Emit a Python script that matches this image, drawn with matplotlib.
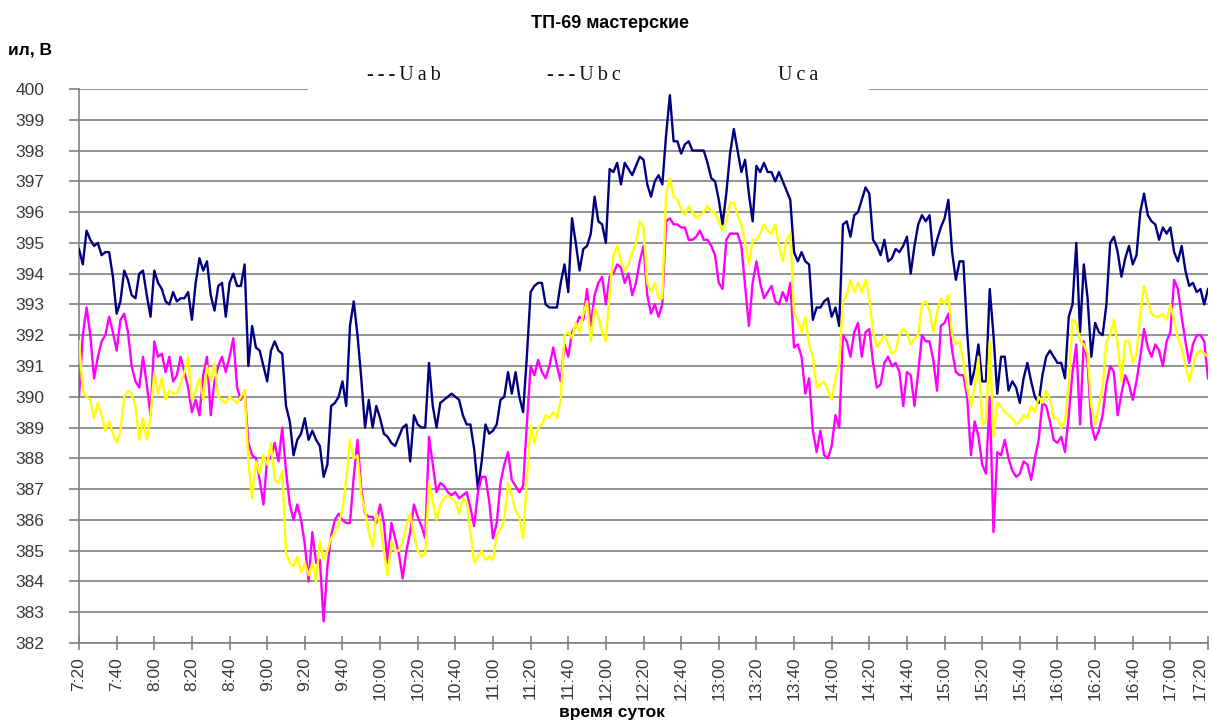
import numpy as np
import matplotlib
matplotlib.use('Agg')
import matplotlib.pyplot as plt
from matplotlib.patches import Rectangle

# минуты от 7:20, отсчёты через 2 минуты
minutes = np.arange(0, 601, 2)

tick_labels = ['7:20', '7:40', '8:00', '8:20', '8:40', '9:00', '9:20', '9:40',
               '10:00', '10:20', '10:40', '11:00', '11:20', '11:40', '12:00',
               '12:20', '12:40', '13:00', '13:20', '13:40', '14:00', '14:20',
               '14:40', '15:00', '15:20', '15:40', '16:00', '16:20', '16:40',
               '17:00', '17:20']

# линейное напряжение Uab, В
u_ab = [
    394.8, 394.3, 395.4, 395.1, 394.9, 395.0, 394.6, 394.7, 394.7, 393.9,
    392.7, 393.1, 394.1, 393.8, 393.3, 393.2, 394.0, 394.1, 393.3, 392.6,
    394.1, 393.7, 393.5, 393.1, 393.0, 393.4, 393.1, 393.2, 393.2, 393.4,
    392.5, 393.7, 394.5, 394.1, 394.4, 393.3, 392.8, 393.6, 393.7, 392.6,
    393.7, 394.0, 393.6, 393.6, 394.3, 391.0, 392.3, 391.6, 391.5, 391.0,
    390.5,
    391.5, 391.8, 391.5, 391.4, 389.7, 389.2, 388.1, 388.6, 388.8, 389.3,
    388.6, 388.9, 388.6, 388.4, 387.4, 387.8, 389.7, 389.8, 390.0, 390.5,
    389.7, 392.3, 393.1, 392.0, 390.6, 389.0, 389.9, 389.0, 389.7, 389.3,
    388.8, 388.7, 388.5, 388.4, 388.7, 389.0, 389.1, 387.9, 389.4, 389.1,
    389.0, 389.0, 391.1, 389.7, 389.0, 389.8, 389.9, 390.0, 390.1, 390.0,
    389.9, 389.4, 389.1, 389.1, 388.3, 387.0, 387.9, 389.1, 388.8, 388.9,
    389.1, 389.9, 390.0, 390.8, 390.1, 390.8, 390.0, 389.5, 391.3, 393.4,
    393.6, 393.7, 393.7, 393.0, 392.9, 392.9, 392.9, 393.7, 394.3, 393.4,
    395.8, 395.0, 394.1, 394.8, 394.9, 395.3, 396.5, 395.7, 395.6, 395.0,
    397.4, 397.3, 397.6, 396.9, 397.6, 397.4, 397.2, 397.5, 397.8, 397.7,
    396.9, 396.5, 397.0, 397.2, 396.9, 398.5, 399.8, 398.3, 398.3, 397.9,
    398.2, 398.3, 398.0, 398.0, 398.0, 398.0, 397.6, 397.1, 397.0, 396.4,
    395.6, 396.6, 397.9, 398.7, 398.0, 397.3, 397.7, 396.6, 395.7, 397.5,
    397.3, 397.6, 397.3, 397.3, 397.0, 397.3, 397.0, 396.7, 396.4, 394.7,
    394.4, 394.7, 394.4, 394.3, 392.5, 392.9, 392.9, 393.1, 393.2, 392.6,
    392.9, 392.3, 395.6, 395.7, 395.2, 395.9, 396.0, 396.4, 396.8, 396.6,
    395.1, 394.9, 394.6, 395.1, 394.4, 394.5, 394.8, 394.7, 394.9, 395.2,
    394.0, 394.9, 395.6, 395.9, 395.7, 395.9, 394.6, 395.1, 395.5, 395.8,
    396.4, 394.7, 393.8, 394.4, 394.4, 392.1, 390.4, 390.9, 391.7, 390.5,
    390.5, 393.5, 392.0, 390.1, 391.3, 391.3, 390.2, 390.5, 390.3, 389.8,
    390.6, 391.1, 390.5, 390.0, 389.8, 390.7, 391.3, 391.5, 391.3, 391.1,
    391.1, 390.6, 392.6, 393.0, 395.0, 392.1, 394.3, 393.2, 391.3, 392.4,
    392.1, 392.0, 393.0, 395.0, 395.2, 394.7, 393.9, 394.5, 394.9, 394.3,
    394.6, 396.0, 396.6, 395.9, 395.7, 395.6, 395.1, 395.5, 395.3, 395.5,
    394.7, 394.4, 394.9, 394.1, 393.6, 393.7, 393.4, 393.5, 393.0, 393.5,
]

# линейное напряжение Ubc, В
u_bc = [
    390.0, 392.0, 392.9, 392.0, 390.6, 391.3, 391.8, 392.0, 392.6, 392.1,
    391.5, 392.5, 392.7, 392.1, 391.0, 390.5, 390.3, 391.3, 390.4, 389.4,
    391.8, 391.3, 391.4, 390.8, 391.3, 390.5, 390.7, 391.3, 390.8, 390.3,
    389.5, 389.9, 389.4, 390.7, 391.3, 389.4, 390.5, 391.0, 391.3, 390.8,
    391.3, 391.9, 390.3, 389.9, 390.2, 388.5, 388.1, 388.0, 387.3, 386.5,
    388.0,
    388.0, 388.5, 387.9, 389.0, 387.6, 386.5, 386.0, 386.5, 386.0, 385.2,
    384.0, 385.6, 384.6, 384.7, 382.7, 384.5, 385.5, 386.0, 386.2, 386.0,
    385.9, 385.9, 387.4, 388.6, 387.0, 386.2, 386.1, 386.1, 385.9, 386.5,
    385.9, 384.6, 385.9, 385.4, 384.9, 384.1, 385.0, 385.6, 386.5, 386.1,
    385.8, 385.4, 388.7, 387.8, 386.9, 387.2, 387.1, 386.9, 386.8, 386.9,
    386.7, 386.8, 386.9, 386.4, 385.8, 386.9, 387.4, 387.4, 386.6, 385.4,
    385.9, 387.2, 387.8, 388.2, 387.3, 387.1, 386.9, 387.1, 389.1, 391.0,
    390.7, 391.2, 390.8, 390.6, 391.0, 391.6, 391.0, 390.5, 391.7, 391.3,
    392.1, 392.3, 392.6, 392.5, 393.5, 392.3, 393.3, 393.7, 393.9, 393.0,
    393.9, 394.0, 394.3, 394.2, 393.7, 394.0, 393.3, 393.7, 394.4, 394.9,
    393.3, 392.7, 393.0, 392.6, 393.0, 395.7, 395.8, 395.6, 395.6, 395.5,
    395.5, 395.1, 395.1, 395.2, 395.4, 395.1, 395.1, 394.9, 394.6, 393.7,
    393.5, 395.1, 395.3, 395.3, 395.3, 394.9, 393.6, 392.3, 393.7, 394.4,
    393.7, 393.2, 393.4, 393.6, 393.1, 393.0, 393.4, 393.1, 393.7, 391.6,
    391.7, 391.3, 390.1, 390.6, 388.9, 388.2, 388.9, 388.1, 388.0, 388.4,
    389.4, 389.0, 392.0, 391.8, 391.3, 392.1, 392.4, 391.3, 392.1, 392.2,
    391.1, 390.3, 390.4, 391.1, 391.3, 391.0, 391.1, 390.8, 389.7, 390.8,
    390.7, 389.7, 390.8, 392.0, 391.8, 391.8, 391.2, 390.2, 392.3, 392.4,
    392.7, 391.5, 390.8, 390.7, 390.7, 390.0, 388.1, 389.2, 388.7, 387.8,
    387.5, 390.0, 385.6, 388.2, 388.1, 388.6, 388.0, 387.6, 387.4, 387.5,
    387.9, 387.8, 387.3, 388.0, 388.6, 389.8, 389.7, 389.2, 388.6, 388.5,
    388.7, 388.2, 389.4, 390.8, 391.7, 389.1, 391.8, 391.1, 389.1, 388.6,
    388.9, 389.4, 390.4, 391.0, 390.8, 389.4, 390.1, 390.7, 390.4, 389.9,
    390.5, 391.3, 392.2, 391.6, 391.3, 391.7, 391.5, 391.0, 391.8, 392.1,
    393.8, 393.5, 392.6, 391.8, 391.1, 391.7, 392.0, 392.0, 391.8, 390.6,
]

# линейное напряжение Uca, В
u_ca = [
    391.8, 390.2, 390.0, 389.9, 389.3, 389.8, 389.4, 388.9, 389.2, 388.8,
    388.5, 388.9, 390.0, 390.2, 390.1, 389.7, 388.6, 389.3, 388.6, 389.4,
    390.8, 390.1, 390.6, 389.9, 390.2, 390.1, 390.1, 390.4, 390.8, 391.3,
    389.9, 390.2, 390.6, 389.9, 391.0, 390.5, 391.1, 390.0, 389.9, 389.8,
    390.0, 389.9, 389.8, 390.0, 390.2, 387.9, 386.7, 387.9, 387.5, 388.1,
    387.8,
    388.5, 387.3, 387.2, 387.6, 384.9, 384.6, 384.5, 384.8, 384.3, 384.6,
    384.2, 384.6, 384.0, 385.3, 384.7, 385.0, 385.4, 385.6, 385.9, 386.3,
    387.3, 388.6, 388.0, 388.1, 386.8, 386.3, 385.6, 385.1, 386.2, 385.9,
    385.0, 384.2, 385.3, 385.0, 385.0, 385.3, 385.8, 386.2, 385.5, 385.0,
    384.8, 384.9, 387.2, 386.6, 386.0, 386.5, 386.7, 386.8, 386.7, 386.6,
    386.2, 386.7, 386.6, 385.6, 384.6, 384.8, 385.0, 384.7, 384.8, 384.7,
    385.5, 385.7, 386.0, 387.2, 386.8, 386.3, 386.1, 385.4, 387.3, 389.1,
    388.5, 389.0, 389.1, 389.4, 389.3, 389.5, 389.3, 389.9, 392.0, 392.1,
    391.9, 392.4, 392.1, 392.7, 393.1, 391.8, 392.9, 392.6, 392.1, 391.8,
    393.4, 394.6, 394.9, 394.4, 394.1, 394.3, 394.7, 395.0, 395.7, 395.5,
    393.7, 393.4, 393.7, 393.2, 393.2, 396.6, 397.1, 396.5, 396.4, 396.1,
    395.9, 396.2, 396.0, 395.8, 395.9, 396.0, 396.2, 396.0, 396.0, 395.7,
    395.4, 395.7, 396.3, 396.3, 395.9, 395.6, 395.0, 394.3, 395.1, 395.1,
    395.3, 395.6, 395.4, 395.3, 395.6, 394.9, 394.4, 395.1, 395.3, 392.7,
    392.5, 392.1, 392.6, 391.7, 391.3, 390.3, 390.4, 390.5, 390.2, 389.9,
    390.6, 391.1, 393.1, 393.3, 393.8, 393.4, 393.7, 393.4, 393.8, 393.2,
    392.1, 391.6, 391.8, 392.0, 391.7, 391.4, 391.5, 392.0, 392.2, 392.1,
    391.7, 391.9, 392.0, 393.0, 393.1, 392.8, 392.1, 392.7, 393.2, 393.0,
    393.3, 392.0, 391.7, 391.8, 391.1, 390.3, 389.7, 390.3, 391.3, 389.1,
    389.2, 391.8, 388.7, 389.8, 389.7, 389.5, 389.4, 389.3, 389.1, 389.2,
    389.4, 389.3, 389.7, 389.5, 390.0, 389.8, 390.2, 389.9, 389.3, 389.3,
    389.0, 389.2, 390.5, 392.5, 392.4, 391.8, 391.7, 391.4, 389.7, 389.1,
    389.7, 390.3, 391.8, 392.0, 392.5, 391.7, 390.5, 391.8, 391.8, 391.1,
    391.4, 392.7, 393.6, 393.1, 392.7, 392.6, 392.6, 392.7, 392.5, 393.0,
    392.5, 391.9, 391.6, 391.0, 390.5, 391.0, 391.4, 391.5, 391.4, 391.3,
]

GRID = '#808080'
TEXT = '#3a3a3a'
SANS = ['Liberation Sans', 'DejaVu Sans']
SERIF = ['Liberation Serif', 'DejaVu Serif']

fig = plt.figure(figsize=(12.12, 7.24), dpi=100)
ax = fig.add_axes([0.0652, 0.1119, 0.9315, 0.7652])

ax.plot(minutes, u_ab, color='#000080', lw=1.7, zorder=3)
ax.plot(minutes, u_bc, color='#ff00ff', lw=1.7, zorder=3)
ax.plot(minutes, u_ca, color='#ffff00', lw=1.7, zorder=3)

ax.set_xlim(0, 600)
ax.set_ylim(382, 400)
ax.set_yticks(np.arange(382, 401, 1))
ax.set_xticks(np.arange(0, 601, 20))
ax.set_xticklabels(tick_labels, rotation=90, family=SANS, fontsize=12.5, color=TEXT)
for lab in ax.get_yticklabels():
    lab.set_family(SANS)
    lab.set_fontsize(12.5)
    lab.set_color(TEXT)

# последняя подпись у самого края — прижимаем её к отметке слева
ax.get_xticklabels()[-1].set_horizontalalignment('right')

ax.set_axisbelow(True)
ax.grid(axis='y', color=GRID, lw=1.2)
ax.grid(axis='x', visible=False)
for side in ('top', 'right'):
    ax.spines[side].set_visible(False)
for side in ('left', 'bottom'):
    ax.spines[side].set_color(GRID)
    ax.spines[side].set_linewidth(1.2)
ax.tick_params(axis='y', direction='out', length=7, width=1.2, color=GRID, pad=18)
ax.tick_params(axis='x', direction='inout', length=10, width=1.2, color=GRID, pad=5)

# белая подложка легенды поверх верхней линии сетки
ax.add_patch(Rectangle((0.2028, 0.9928), 0.4969, 0.095, transform=ax.transAxes,
                       facecolor='white', edgecolor='none', clip_on=False, zorder=1.5))

ts = '\u2009'
fig.text(367 / 1212, 1 - 75 / 724, ts.join('---Uab'), family=SERIF, fontsize=14.5,
         va='center', ha='left', color='#111111')
fig.text(547 / 1212, 1 - 75 / 724, ts.join('---Ubc'), family=SERIF, fontsize=14.5,
         va='center', ha='left', color='#111111')
fig.text(778 / 1212, 1 - 75 / 724, ts.join('Uca'), family=SERIF, fontsize=14.5,
         va='center', ha='left', color='#111111')

fig.text(610 / 1212, 1 - 24 / 724, 'ТП-69 мастерские', family=SANS, fontsize=13,
         fontweight='bold', ha='center', va='center')
fig.text(8 / 1212, 1 - 50 / 724, 'ил, В', family=SANS, fontsize=12.5,
         fontweight='bold', ha='left', va='center')
fig.text(612 / 1212, 1 - 713 / 724, 'время суток', family=SANS, fontsize=12.5,
         fontweight='bold', ha='center', va='center')

fig.savefig('out.png', dpi=100)
